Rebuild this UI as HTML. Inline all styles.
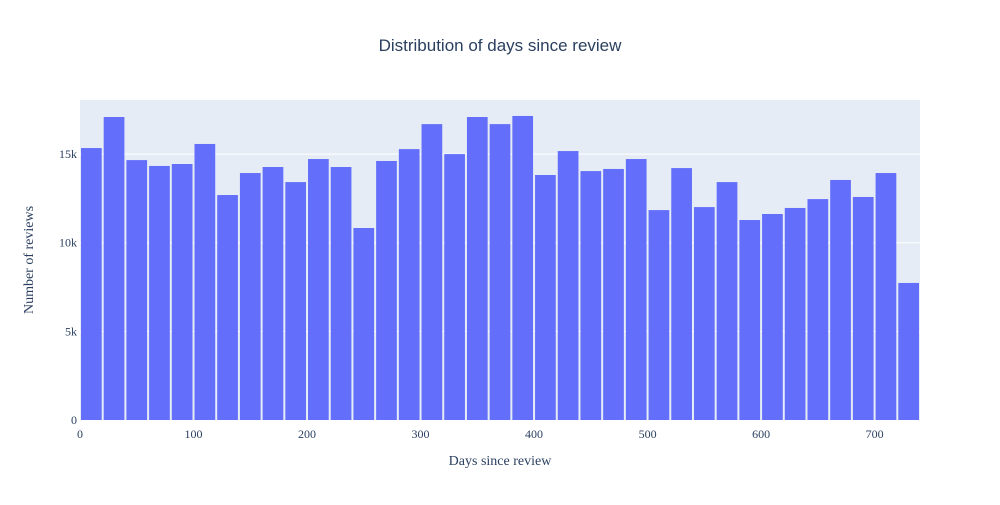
<!DOCTYPE html>
<html><head><meta charset="utf-8"><style>
body{margin:0;background:#fff;}
svg text{font-family:"Liberation Serif",serif;fill:#2a3f5f;}
</style></head><body>
<svg width="1000" height="500" xmlns="http://www.w3.org/2000/svg">
<rect x="0" y="0" width="1000" height="500" fill="#fff"/>
<text x="500" y="51" text-anchor="middle" style="font-family:'Liberation Sans',sans-serif;font-size:17px">Distribution of days since review</text>
<rect x="80" y="100" width="840" height="320" fill="#e5ecf6"/>
<g id="grid"></g>
<g id="bars"></g>
<g id="xticks"></g>
<g id="yticks"></g>
<text x="500" y="465" text-anchor="middle" font-size="14">Days since review</text>
<text x="33" y="260" text-anchor="middle" font-size="14" transform="rotate(-90 33 260)">Number of reviews</text>
</svg>
<script>
const binStarts=[0,20,40,60,80,100,120,140,160,180,200,220,240,260,280,300,320,340,360,380,400,420,440,460,480,500,520,540,560,580,600,620,640,660,680,700,720];
const counts=[15340,17090,14660,14330,14440,15570,12690,13930,14270,13420,14720,14270,10830,14610,15280,16690,15000,17090,16690,17150,13820,15170,14040,14160,14720,11840,14210,12010,13420,11280,11620,11960,12460,13540,12580,13930,7730];
const binWidth=20;
const xTicks=[0,100,200,300,400,500,600,700];
const yTicks=[0,5000,10000,15000];
const yTickLabels=["0","5k","10k","15k"];
const X0=80,X1=920,Y0=420,Y1=100,XMAX=740,YMAX=18050;
const NS="http://www.w3.org/2000/svg";
function xs(v){return X0+(v/XMAX)*(X1-X0);}
function ys(v){return Y0-(v/YMAX)*(Y0-Y1);}
const grid=document.getElementById('grid'),bars=document.getElementById('bars'),xt=document.getElementById('xticks'),yt=document.getElementById('yticks');
yTicks.forEach((t,i)=>{
 if(t>0){const l=document.createElementNS(NS,'line');
 l.setAttribute('x1',X0);l.setAttribute('x2',X1);l.setAttribute('y1',ys(t));l.setAttribute('y2',ys(t));
 l.setAttribute('stroke','#fff');l.setAttribute('stroke-width','1');
 
 
 grid.appendChild(l);}
 const tx=document.createElementNS(NS,'text');
 tx.setAttribute('x',X0-3);tx.setAttribute('y',ys(t)+4);tx.setAttribute('text-anchor','end');tx.setAttribute('font-size','12');
 tx.textContent=yTickLabels[i];
 
 
 yt.appendChild(tx);
});
binStarts.forEach((b,i)=>{
 const r=document.createElementNS(NS,'rect');
 const xa=xs(b),xb=xs(b+binWidth),gap=1;
 r.setAttribute('x',xa+gap);r.setAttribute('width',xb-xa-2*gap);
 r.setAttribute('y',ys(counts[i]));r.setAttribute('height',Y0-ys(counts[i]));
 r.setAttribute('fill','#636efa');
 
 
 bars.appendChild(r);
});
xTicks.forEach(t=>{
 const tx=document.createElementNS(NS,'text');
 tx.setAttribute('x',xs(t));tx.setAttribute('y',Y0+18);tx.setAttribute('text-anchor','middle');tx.setAttribute('font-size','12');
 tx.textContent=t;
 
 
 xt.appendChild(tx);
});
</script>
</body></html>
